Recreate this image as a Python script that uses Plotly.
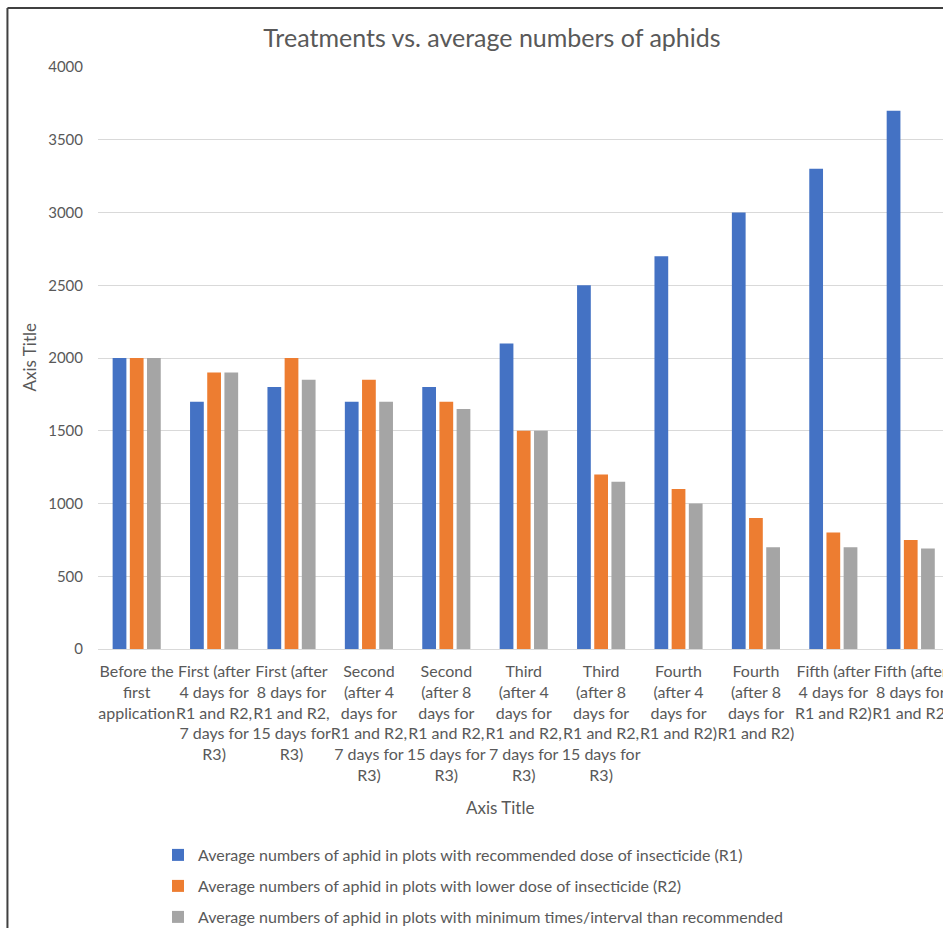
import plotly.graph_objects as go

categories = [
    "Before the first application",
    "First (after 4 days for R1 and R2, 7 days for R3)",
    "First (after 8 days for R1 and R2, 15 days for R3)",
    "Second (after 4 days for R1 and R2, 7 days for R3)",
    "Second (after 8 days for R1 and R2, 15 days for R3)",
    "Third (after 4 days for R1 and R2, 7 days for R3)",
    "Third (after 8 days for R1 and R2, 15 days for R3)",
    "Fourth (after 4 days for R1 and R2)",
    "Fourth (after 8 days for R1 and R2)",
    "Fifth (after 4 days for R1 and R2)",
    "Fifth (after 8 days for R1 and R2)",
]
tick_labels = [
    "Before the<br>first<br>application",
    "First (after<br>4 days for<br>R1 and R2,<br>7 days for<br>R3)",
    "First (after<br>8 days for<br>R1 and R2,<br>15 days for<br>R3)",
    "Second<br>(after 4<br>days for<br>R1 and R2,<br>7 days for<br>R3)",
    "Second<br>(after 8<br>days for<br>R1 and R2,<br>15 days for<br>R3)",
    "Third<br>(after 4<br>days for<br>R1 and R2,<br>7 days for<br>R3)",
    "Third<br>(after 8<br>days for<br>R1 and R2,<br>15 days for<br>R3)",
    "Fourth<br>(after 4<br>days for<br>R1 and R2)",
    "Fourth<br>(after 8<br>days for<br>R1 and R2)",
    "Fifth (after<br>4 days for<br>R1 and R2)",
    "Fifth (after<br>8 days for<br>R1 and R2)",
]
series_names = [
    "Average numbers of aphid in plots with recommended dose of insecticide (R1)",
    "Average numbers of aphid in plots with lower dose of insecticide (R2)",
    "Average numbers of aphid in plots with minimum times/interval than recommended",
]
r1 = [2000, 1700, 1800, 1700, 1800, 2100, 2500, 2700, 3000, 3300, 3700]
r2 = [2000, 1900, 2000, 1850, 1700, 1500, 1200, 1100, 900, 800, 750]
r3 = [2000, 1900, 1850, 1700, 1650, 1500, 1150, 1000, 700, 700, 690]
colors = ["#4472C4", "#ED7D31", "#A5A5A5"]

TXT = "#595959"
FONT = "Lato"
W, H = 943, 928
L, T, B = 97.6, 67, 279
PW = W - L
PH = H - T - B

fig = go.Figure()
for i, (name, vals) in enumerate(zip(series_names, [r1, r2, r3])):
    fig.add_trace(go.Bar(
        x=list(range(len(categories))), y=vals, name=name,
        marker=dict(color=colors[i], line=dict(width=0)),
        legendgroup=f"g{i}",
        customdata=categories,
        hovertemplate="%{customdata}<br>%{y}<extra></extra>",
    ))

def px(xp):
    return (xp - L) / PW

def py(yp):
    return (H - B - yp) / PH

fig.update_layout(
    width=W, height=H,
    margin=dict(l=L, r=0, t=T, b=B, pad=0, autoexpand=False),
    paper_bgcolor="white", plot_bgcolor="white",
    font=dict(family=FONT, color=TXT, size=15),
    barmode="group", bargap=0.334, bargroupgap=0.2,
    title=dict(text="Treatments vs. average numbers of aphids",
               font=dict(family=FONT, size=25, color=TXT),
               xref="container", yref="container",
               x=492 / W, y=1 - 38 / H, xanchor="center", yanchor="middle"),
    xaxis=dict(
        range=[-0.5, (W - L) / 77.44 - 0.5],
        tickmode="array", tickvals=list(range(len(categories))), ticktext=tick_labels,
        tickfont=dict(family=FONT, size=16, color=TXT), tickangle=0,
        ticklabeloverflow="allow",
        showgrid=False, showline=False, zeroline=False, ticks="",
        ticklabelstandoff=11, automargin=False,
    ),
    yaxis=dict(
        range=[0, 4000], dtick=500, tick0=0,
        tickfont=dict(family=FONT, size=15, color=TXT),
        showgrid=True, gridcolor="#D9D9D9", gridwidth=1,
        zeroline=True, zerolinecolor="#D9D9D9", zerolinewidth=1,
        showline=False, ticks="", ticklabelstandoff=14, automargin=False,
    ),
    legend=dict(
        xref="container", yref="container",
        x=158 / W, y=1 - 838 / H, xanchor="left", yanchor="top",
        orientation="v", traceorder="grouped", tracegroupgap=7.2,
        font=dict(family=FONT, size=16, color=TXT),
        bgcolor="rgba(0,0,0,0)", itemwidth=30,
    ),
    showlegend=True,
    annotations=[
        dict(text="Axis Title", xref="paper", yref="paper",
             x=px(500), y=py(807), showarrow=False,
             xanchor="center", yanchor="middle",
             font=dict(family=FONT, size=17, color=TXT)),
        dict(text="Axis Title", xref="paper", yref="paper",
             x=px(29), y=py(357), showarrow=False, textangle=-90,
             xanchor="center", yanchor="middle",
             font=dict(family=FONT, size=17, color=TXT)),
    ],
    shapes=[
        dict(type="line", xref="paper", yref="paper",
             x0=px(7), x1=px(W + 5), y0=py(8), y1=py(8),
             line=dict(color="#404040", width=2)),
        dict(type="line", xref="paper", yref="paper",
             x0=px(7), x1=px(7), y0=py(8), y1=py(H + 5),
             line=dict(color="#404040", width=2)),
    ],
)

fig.write_html("out.html")
